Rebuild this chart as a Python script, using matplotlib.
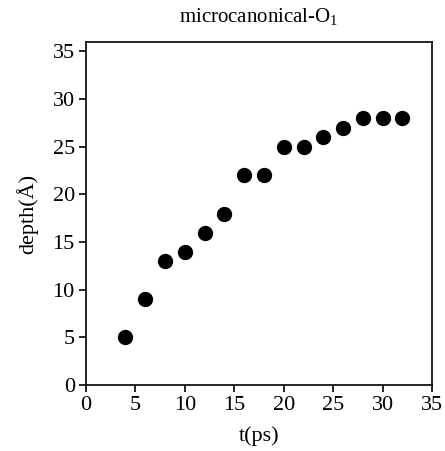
import matplotlib
matplotlib.use("Agg")
import matplotlib.pyplot as plt

t_ps = [4, 6, 8, 10, 12, 14, 16, 18, 20, 22, 24, 26, 28, 30, 32]
depth = [5, 9, 13, 14, 16, 18, 22, 22, 25, 25, 26, 27, 28, 28, 28]
x_ticks = [0, 5, 10, 15, 20, 25, 30, 35]
y_ticks = [0, 5, 10, 15, 20, 25, 30, 35]

plt.rcParams['font.family'] = ['Liberation Serif', 'DejaVu Serif']
plt.rcParams['mathtext.fontset'] = 'custom'
plt.rcParams['mathtext.rm'] = 'Liberation Serif'

fig = plt.figure(figsize=(4.45, 4.51), dpi=100)
ax = fig.add_axes([0.193, 0.146, 0.778, 0.761])
ax.plot(t_ps, depth, 'o', color='black', markersize=10)

ax.set_xlim(0, 35)
ax.set_ylim(0, 36)
ax.set_xticks(x_ticks)
ax.set_yticks(y_ticks)
ax.tick_params(direction='out', length=5, width=1.2, labelsize=16, pad=3)
for s in ax.spines.values():
    s.set_linewidth(1.2)

ax.set_title(r'microcanonical-O$_\mathregular{1}$', fontsize=15, pad=14)
ax.set_xlabel('t(ps)', fontsize=16, labelpad=8)
ax.set_ylabel('depth(Å)', fontsize=16, labelpad=10)

fig.savefig('out.png', dpi=100)
